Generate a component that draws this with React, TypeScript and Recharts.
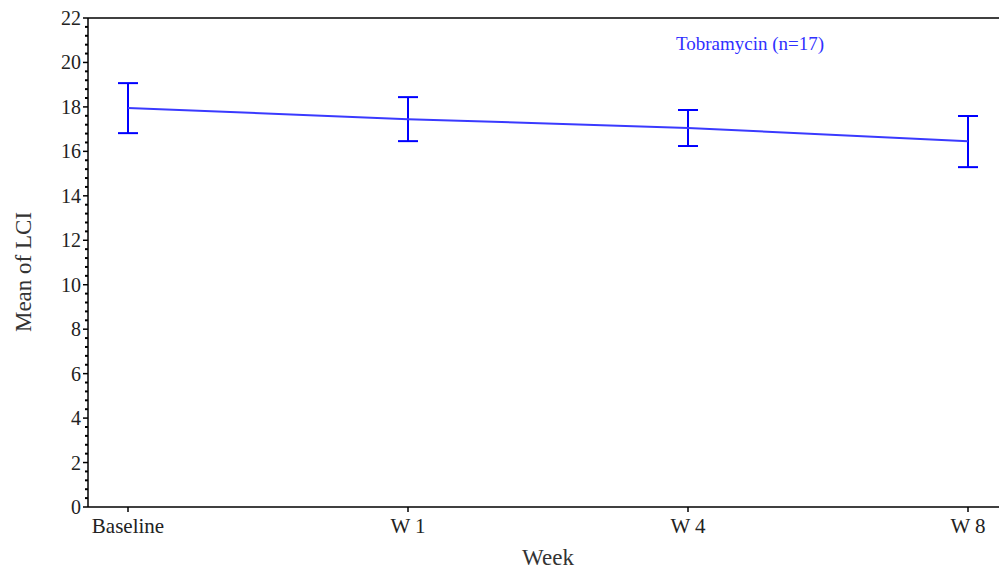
import { LineChart, Line, XAxis, YAxis, ErrorBar, ReferenceLine } from "recharts";

const weeks = ["Baseline", "W 1", "W 4", "W 8"];
const means = [17.95, 17.45, 17.05, 16.46];
const lower = [16.82, 16.46, 16.24, 15.29];
const upper = [19.07, 18.44, 17.86, 17.59];
const majorTicks = [0, 2, 4, 6, 8, 10, 12, 14, 16, 18, 20, 22];

const minorTicks: number[] = [];
for (let i = 0; i <= 55; i++) minorTicks.push(Math.round(i * 0.4 * 10) / 10);

const data = weeks.map((w, i) => ({
  x: i,
  week: w,
  mean: means[i],
  err: [means[i] - lower[i], upper[i] - means[i]],
}));

const serif = "'Liberation Serif', 'DejaVu Serif', serif";

function YTick(props: any) {
  const { x, y, payload } = props;
  const v = payload.value;
  const major = majorTicks.includes(v);
  return (
    <g>
      <line x1={x} x2={x - (major ? 5 : 3)} y1={y} y2={y} stroke="#000" strokeWidth={major ? 1.5 : 2} />
      {major && (
        <text x={x - 7} y={y} dy={7} textAnchor="end" fontSize={20} fontFamily={serif} fill="#222">
          {v}
        </text>
      )}
    </g>
  );
}

export default function App() {
  return (
    <div style={{ position: "absolute", left: 0, top: 0, width: 999, height: 571, overflow: "hidden", background: "#fff" }}>
      <LineChart width={1010} height={571} data={data} margin={{ top: 18, right: 2, left: 0, bottom: 24 }}>
        <XAxis
          dataKey="x"
          type="number"
          domain={[-1 / 7, 3 + 1 / 7]}
          ticks={[0, 1, 2, 3]}
          tickFormatter={(v: number) => weeks[v]}
          height={40}
          tickSize={5}
          tickMargin={6}
          axisLine={{ stroke: "#000", strokeWidth: 1.5 }}
          tickLine={{ stroke: "#000", strokeWidth: 1.5 }}
          tick={{ fontSize: 21, fontFamily: serif, fill: "#222" }}
        />
        <YAxis
          type="number"
          domain={[0, 22]}
          ticks={minorTicks}
          interval={0}
          width={88}
          tickSize={0}
          tickMargin={0}
          tickLine={false}
          axisLine={{ stroke: "#000", strokeWidth: 1.5 }}
          tick={<YTick />}
        />
        <ReferenceLine y={22} stroke="#000" strokeWidth={1.5} />
        <Line
          type="linear"
          dataKey="mean"
          stroke="#3a3aff"
          strokeWidth={2}
          dot={false}
          isAnimationActive={false}
        >
          <ErrorBar dataKey="err" direction="y" width={10} stroke="#0000ff" strokeWidth={2} isAnimationActive={false} />
        </Line>
      </LineChart>
      <div
        style={{
          position: "absolute",
          left: 676,
          top: 33,
          fontFamily: serif,
          fontSize: 19,
          color: "#3030ff",
          whiteSpace: "nowrap",
        }}
      >
        Tobramycin (n=17)
      </div>
      <div
        style={{
          position: "absolute",
          left: 548,
          top: 558,
          transform: "translate(-50%, -50%)",
          fontFamily: serif,
          fontSize: 23,
          color: "#333",
          whiteSpace: "nowrap",
        }}
      >
        Week
      </div>
      <div
        style={{
          position: "absolute",
          left: 24,
          top: 272,
          transform: "translate(-50%, -50%) rotate(-90deg)",
          fontFamily: serif,
          fontSize: 23,
          color: "#333",
          whiteSpace: "nowrap",
        }}
      >
        Mean of LCI
      </div>
    </div>
  );
}
